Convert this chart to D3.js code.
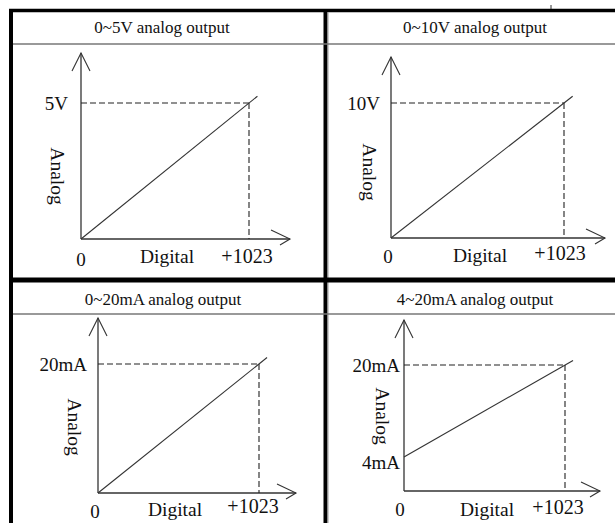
<!DOCTYPE html>
<html><head><meta charset="utf-8">
<script src="https://cdn.jsdelivr.net/npm/d3@7"></script>
<style>body{margin:0;background:#fff}svg{display:block}text{font-family:"Liberation Serif","Times New Roman",serif;fill:#111}</style>
</head><body><svg id="c" width="615" height="523"></svg>
<script>
// ---- data ----
const titles = ["0~5V analog output", "0~10V analog output", "0~20mA analog output", "4~20mA analog output"];
const digitalMin = 0, digitalMax = 1023;
const analogStart = [0, 0, 0, 4];
const analogEnd = [5, 10, 20, 20];
const yTickValues = [[5], [10], [20], [4, 20]];
const yTickLabels = [["5V"], ["10V"], ["20mA"], ["4mA", "20mA"]];
const xTickLabels = ["0", "+1023"];
const xAxisTitle = "Digital", yAxisTitle = "Analog";

// ---- layout ----
const layout = [
  {ox:81, oy:239, xm:249, ym:103, y0:239, tip:53, xe:290, titleX:162, titleY:33, zeroX:81, zeroY:266, digX:167, digY:263, kX:247, kY:263, anX:58, anY:176, tickR:68},
  {ox:391, oy:238, xm:564, ym:103, y0:238, tip:57, xe:605, titleX:475, titleY:33, zeroX:388, zeroY:263, digX:480, digY:262, kX:560, kY:260, anX:370, anY:172, tickR:380},
  {ox:98, oy:493, xm:259, ym:364, y0:493, tip:318, xe:296, titleX:163, titleY:305, zeroX:95, zeroY:518, digX:175, digY:516, kX:253, kY:513, anX:75, anY:427, tickR:87},
  {ox:404, oy:491, xm:565, ym:365, y0:480, tip:320, xe:600, titleX:475, titleY:305, zeroX:400, zeroY:516, digX:487, digY:516, kX:558, kY:514, anX:383, anY:416, tickR:400}
];
const svg = d3.select("#c");
const lineCol = "#333";

layout.forEach((L, i) => {
  const g = svg.append("g");
  const x = d3.scaleLinear().domain([digitalMin, digitalMax]).range([L.ox, L.xm]);
  const y = d3.scaleLinear().domain([0, analogEnd[i]]).range([L.y0, L.ym]);
  // title
  g.append("text").attr("x", L.titleX).attr("y", L.titleY).attr("text-anchor", "middle")
    .style("font-size", "17px").text(titles[i]);
  // y axis with arrow
  g.append("line").attr("x1", L.ox).attr("x2", L.ox).attr("y1", L.oy).attr("y2", L.tip)
    .attr("stroke", lineCol).attr("stroke-width", 1.3);
  g.append("path").attr("d", `M${L.ox-9},${L.tip+18}L${L.ox},${L.tip}L${L.ox+9},${L.tip+18}`)
    .attr("fill", "none").attr("stroke", lineCol).attr("stroke-width", 1.1);
  // x axis with arrow
  g.append("line").attr("x1", L.ox).attr("x2", L.xe).attr("y1", L.oy).attr("y2", L.oy)
    .attr("stroke", lineCol).attr("stroke-width", 1.3);
  g.append("path").attr("d", `M${L.xe-19},${L.oy-9}L${L.xe},${L.oy}L${L.xe-10},${L.oy+6}`)
    .attr("fill", "none").attr("stroke", lineCol).attr("stroke-width", 1.1);
  // dashed guides
  const yMax = y(analogEnd[i]);
  g.append("line").attr("x1", L.ox).attr("x2", x(digitalMax)).attr("y1", yMax).attr("y2", yMax)
    .attr("stroke", "#222").attr("stroke-width", 1.1).attr("stroke-dasharray", "6,3");
  g.append("line").attr("x1", x(digitalMax)).attr("x2", x(digitalMax)).attr("y1", yMax).attr("y2", L.oy)
    .attr("stroke", "#222").attr("stroke-width", 1.1).attr("stroke-dasharray", "6,3");
  // transfer line (with small overshoot)
  const slope = (analogEnd[i] - analogStart[i]) / (digitalMax - digitalMin);
  const dExt = digitalMax * 1.05;
  const pts = [[digitalMin, analogStart[i]], [dExt, analogStart[i] + slope * dExt]];
  g.append("path").attr("d", d3.line().x(d => x(d[0])).y(d => y(d[1]))(pts))
    .attr("fill", "none").attr("stroke", lineCol).attr("stroke-width", 1.1);
  // y tick labels
  yTickValues[i].forEach((v, k) => {
    const yy = v === analogStart[i] && v !== 0 ? y(v) + 5 : y(v);
    g.append("text").attr("x", L.tickR).attr("y", yy).attr("dy", "0.35em").attr("text-anchor", "end")
      .style("font-size", "19px").text(yTickLabels[i][k]);
  });
  // x labels
  g.append("text").attr("x", L.zeroX).attr("y", L.zeroY).attr("text-anchor", "middle")
    .style("font-size", "19px").text(xTickLabels[0]);
  g.append("text").attr("x", L.kX).attr("y", L.kY).attr("text-anchor", "middle")
    .style("font-size", "20px").text(xTickLabels[1]);
  g.append("text").attr("x", L.digX).attr("y", L.digY).attr("text-anchor", "middle")
    .style("font-size", "19.5px").text(xAxisTitle);
  g.append("text").attr("transform", `translate(${L.anX},${L.anY}) rotate(90)`)
    .attr("text-anchor", "middle").attr("dy", "0.35em")
    .style("font-size", "19.5px").text(yAxisTitle);
});

// ---- table frame ----
const frame = svg.append("g");
frame.append("line").attr("x1", 11).attr("x2", 11).attr("y1", 9).attr("y2", 523).attr("stroke", "#000").attr("stroke-width", 4);
frame.append("line").attr("x1", 9).attr("x2", 615).attr("y1", 10.5).attr("y2", 10.5).attr("stroke", "#000").attr("stroke-width", 3.5);
frame.append("line").attr("x1", 325.5).attr("x2", 325.5).attr("y1", 9).attr("y2", 523).attr("stroke", "#000").attr("stroke-width", 4);
frame.append("line").attr("x1", 328).attr("x2", 328).attr("y1", 12).attr("y2", 523).attr("stroke", "#999").attr("stroke-width", 1);
frame.append("line").attr("x1", 9).attr("x2", 615).attr("y1", 280).attr("y2", 280).attr("stroke", "#000").attr("stroke-width", 5);
[44, 314].forEach(yy => frame.append("line").attr("x1", 13).attr("x2", 615).attr("y1", yy).attr("y2", yy)
  .attr("stroke", "#777").attr("stroke-width", 1.5));
frame.append("line").attr("x1", 551).attr("x2", 551).attr("y1", 5).attr("y2", 9).attr("stroke", "#333").attr("stroke-width", 1);
</script></body></html>
